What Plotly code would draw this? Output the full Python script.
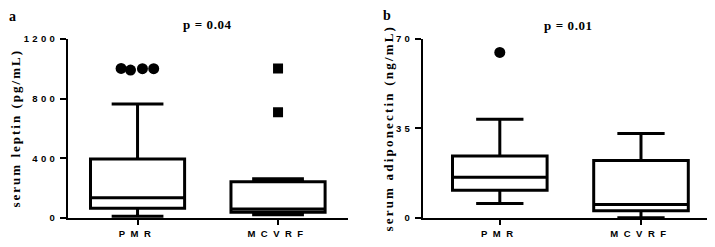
import plotly.graph_objects as go

# page body has an 8px margin: the figure is drawn at (8, 8) in the 715x247 window
OFF = 8
W, H = 715 - OFF, 247 - OFF

categories = ["PMR", "MCVRF"]

# Panel a: serum leptin (pg/mL)
leptin_q1 = [66, 40]
leptin_median = [136, 62]
leptin_q3 = [396, 243]
leptin_low = [13, 22]
leptin_high = [764, 264]
leptin_out_pmr = [1002, 991, 1000, 1000]
leptin_out_pmr_offset = [-0.117, -0.05, 0.035, 0.115]
leptin_out_mcvrf = [1002, 708]

# Panel b: serum adiponectin (ng/mL)
adipo_q1 = [10.9, 2.9]
adipo_median = [16.0, 5.3]
adipo_q3 = [24.3, 22.5]
adipo_low = [5.7, 0.2]
adipo_high = [38.6, 33.0]
adipo_out_pmr = [64.7]

leptin_ticks = [0, 400, 800, 1200]
adipo_ticks = [0, 35, 70]


def px(x):
    return (x - OFF) / W


def py(y):
    return 1 - (y - OFF) / H


def spaced(t, s):
    return f'<span style="letter-spacing:{s}px">{t}</span>'


fig = go.Figure()

line_w = 3


def add_box(q1, med, q3, lo, hi, xa, ya, ww):
    fig.add_trace(go.Box(
        x=[0, 1], q1=q1, median=med, q3=q3, lowerfence=lo, upperfence=hi,
        width=0.67, whiskerwidth=ww, boxpoints=False,
        line=dict(color="black", width=line_w), fillcolor="white",
        xaxis=xa, yaxis=ya, showlegend=False, hoverinfo="skip"))


add_box(leptin_q1, leptin_median, leptin_q3, leptin_low, leptin_high, "x", "y", 0.55)
add_box(adipo_q1, adipo_median, adipo_q3, adipo_low, adipo_high, "x2", "y2", 0.5)

fig.add_trace(go.Scatter(
    x=[0 + o for o in leptin_out_pmr_offset], y=leptin_out_pmr, mode="markers",
    marker=dict(symbol="circle", size=11, color="black"), xaxis="x", yaxis="y", showlegend=False))
fig.add_trace(go.Scatter(
    x=[1] * len(leptin_out_mcvrf), y=leptin_out_mcvrf, mode="markers",
    marker=dict(symbol="square", size=10, color="black"), xaxis="x", yaxis="y", showlegend=False))
fig.add_trace(go.Scatter(
    x=[0] * len(adipo_out_pmr), y=adipo_out_pmr, mode="markers",
    marker=dict(symbol="circle", size=11, color="black"), xaxis="x2", yaxis="y2", showlegend=False))

tickfont = dict(family="Liberation Sans, Arial, sans-serif", size=9.5, color="black", weight="bold")

xcommon = dict(
    tickmode="array", tickvals=[0, 1], ticktext=[spaced(c, 5.5) for c in categories],
    showline=True, linewidth=2,
    linecolor="black", ticks="outside", ticklen=5, tickwidth=2, tickcolor="black",
    showgrid=False, zeroline=False, tickfont=tickfont, fixedrange=True)
ycommon = dict(
    showline=True, linewidth=2, linecolor="black", ticks="outside", ticklen=6, tickwidth=2,
    tickcolor="black", showgrid=False, zeroline=False, tickfont=tickfont, ticklabelstandoff=0)

ydom = [py(222), py(34)]
fig.update_layout(
    width=W, height=H, margin=dict(l=0, r=0, t=0, b=0),
    paper_bgcolor="white", plot_bgcolor="white", boxmode="overlay",
    xaxis=dict(domain=[px(68), px(348)], range=[-0.495, 1.498], anchor="y", **xcommon),
    yaxis=dict(domain=ydom, range=[0, 1200], tickvals=leptin_ticks,
               ticktext=[spaced(str(v), 3.3) for v in leptin_ticks], anchor="x", **ycommon),
    xaxis2=dict(domain=[px(423), px(713)], range=[-0.544, 1.51], anchor="y2", **xcommon),
    yaxis2=dict(domain=ydom, range=[0, 70], tickvals=adipo_ticks,
                ticktext=[spaced(str(v), 3.3) for v in adipo_ticks], anchor="x2", **ycommon),
)

serif = "Liberation Serif, Times New Roman, serif"


def ann(text, x, y, size, angle=0, sp=0):
    fig.add_annotation(text=spaced(text, sp) if sp else text, x=px(x), y=py(y),
                       xref="paper", yref="paper",
                       showarrow=False, textangle=angle, xanchor="center", yanchor="middle",
                       font=dict(family=serif, size=size, color="black", weight="bold"))


ann("a", 12, 11, 14)
ann("b", 387, 10, 14)
ann("p = 0.04", 207, 19, 13, sp=0.6)
ann("p = 0.01", 568, 20, 13, sp=0.6)
ann("serum leptin (pg/mL)", 15, 128, 13, -90, sp=2)
ann("serum adiponectin (ng/mL)", 389, 127, 13, -90, sp=2.2)

fig.write_html("out.html")
